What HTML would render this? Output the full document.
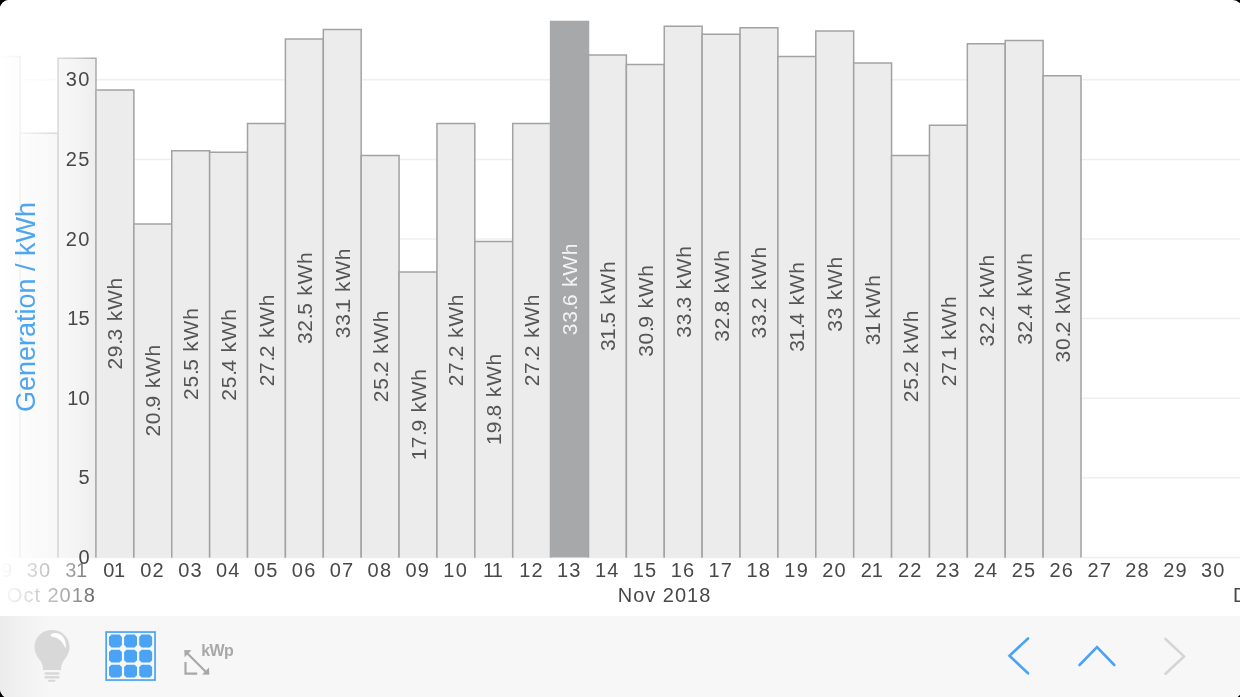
<!DOCTYPE html>
<html><head><meta charset="utf-8"><style>
html,body{margin:0;padding:0;background:#000;}
body{width:1240px;height:697px;overflow:hidden;position:relative;font-family:"Liberation Sans",sans-serif;}
#app{position:absolute;left:0;top:0;width:1242px;height:698px;background:#fff;border-radius:9px;overflow:hidden;}
svg{position:absolute;left:0;top:0;will-change:transform;}
#tb{position:absolute;left:0;top:616px;width:1242px;height:82px;background:linear-gradient(to right,#ececec 0px,#f2f2f2 25px,#f7f7f7 50px);}
</style></head><body><div id="app">
<svg width="1240" height="616" viewBox="0 0 1240 616" font-family="Liberation Sans, sans-serif">
<defs>
<linearGradient id="fade" x1="0" y1="0" x2="1" y2="0">
<stop offset="0" stop-color="#fff" stop-opacity="1"/>
<stop offset="0.4" stop-color="#fff" stop-opacity="0.72"/>
<stop offset="0.72" stop-color="#fff" stop-opacity="0.47"/>
<stop offset="0.84" stop-color="#fff" stop-opacity="0.29"/>
<stop offset="1" stop-color="#fff" stop-opacity="0"/>
</linearGradient>
</defs>
<g stroke="#efefef" stroke-width="1.5"><line x1="0" y1="477.80" x2="1240" y2="477.80" /><line x1="0" y1="398.20" x2="1240" y2="398.20" /><line x1="0" y1="318.60" x2="1240" y2="318.60" /><line x1="0" y1="239.00" x2="1240" y2="239.00" /><line x1="0" y1="159.40" x2="1240" y2="159.40" /><line x1="0" y1="79.80" x2="1240" y2="79.80" /><line x1="0" y1="557.40" x2="1240" y2="557.40" /></g>
<g><rect x="-17.67" y="56.57" width="37.88" height="500.83" fill="#ececec"/><path d="M-17.67 557.40 V56.57 H20.22 V557.40" fill="none" stroke="#a1a2a4" stroke-width="1.5"/><rect x="20.22" y="133.13" width="37.88" height="424.27" fill="#ececec"/><path d="M20.22 557.40 V133.13 H58.10 V557.40" fill="none" stroke="#a1a2a4" stroke-width="1.5"/><rect x="58.10" y="58.16" width="37.88" height="499.24" fill="#ececec"/><path d="M58.10 557.40 V58.16 H95.98 V557.40" fill="none" stroke="#a1a2a4" stroke-width="1.5"/><rect x="95.98" y="90.06" width="37.88" height="467.33" fill="#ececec"/><path d="M95.98 557.40 V90.06 H133.87 V557.40" fill="none" stroke="#a1a2a4" stroke-width="1.5"/><rect x="133.87" y="224.05" width="37.88" height="333.35" fill="#ececec"/><path d="M133.87 557.40 V224.05 H171.75 V557.40" fill="none" stroke="#a1a2a4" stroke-width="1.5"/><rect x="171.75" y="150.68" width="37.88" height="406.72" fill="#ececec"/><path d="M171.75 557.40 V150.68 H209.64 V557.40" fill="none" stroke="#a1a2a4" stroke-width="1.5"/><rect x="209.64" y="152.27" width="37.88" height="405.13" fill="#ececec"/><path d="M209.64 557.40 V152.27 H247.52 V557.40" fill="none" stroke="#a1a2a4" stroke-width="1.5"/><rect x="247.52" y="123.56" width="37.88" height="433.84" fill="#ececec"/><path d="M247.52 557.40 V123.56 H285.41 V557.40" fill="none" stroke="#a1a2a4" stroke-width="1.5"/><rect x="285.41" y="39.02" width="37.88" height="518.38" fill="#ececec"/><path d="M285.41 557.40 V39.02 H323.30 V557.40" fill="none" stroke="#a1a2a4" stroke-width="1.5"/><rect x="323.30" y="29.45" width="37.88" height="527.95" fill="#ececec"/><path d="M323.30 557.40 V29.45 H361.18 V557.40" fill="none" stroke="#a1a2a4" stroke-width="1.5"/><rect x="361.18" y="155.46" width="37.88" height="401.94" fill="#ececec"/><path d="M361.18 557.40 V155.46 H399.06 V557.40" fill="none" stroke="#a1a2a4" stroke-width="1.5"/><rect x="399.06" y="271.90" width="37.88" height="285.50" fill="#ececec"/><path d="M399.06 557.40 V271.90 H436.95 V557.40" fill="none" stroke="#a1a2a4" stroke-width="1.5"/><rect x="436.95" y="123.56" width="37.88" height="433.84" fill="#ececec"/><path d="M436.95 557.40 V123.56 H474.83 V557.40" fill="none" stroke="#a1a2a4" stroke-width="1.5"/><rect x="474.83" y="241.59" width="37.88" height="315.81" fill="#ececec"/><path d="M474.83 557.40 V241.59 H512.72 V557.40" fill="none" stroke="#a1a2a4" stroke-width="1.5"/><rect x="512.72" y="123.56" width="37.88" height="433.84" fill="#ececec"/><path d="M512.72 557.40 V123.56 H550.61 V557.40" fill="none" stroke="#a1a2a4" stroke-width="1.5"/><rect x="549.86" y="20.73" width="39.38" height="536.67" fill="#a7a8aa"/><rect x="588.49" y="54.98" width="37.88" height="502.42" fill="#ececec"/><path d="M588.49 557.40 V54.98 H626.38 V557.40" fill="none" stroke="#a1a2a4" stroke-width="1.5"/><rect x="626.38" y="64.55" width="37.88" height="492.85" fill="#ececec"/><path d="M626.38 557.40 V64.55 H664.26 V557.40" fill="none" stroke="#a1a2a4" stroke-width="1.5"/><rect x="664.26" y="26.27" width="37.88" height="531.13" fill="#ececec"/><path d="M664.26 557.40 V26.27 H702.14 V557.40" fill="none" stroke="#a1a2a4" stroke-width="1.5"/><rect x="702.14" y="34.24" width="37.88" height="523.16" fill="#ececec"/><path d="M702.14 557.40 V34.24 H740.03 V557.40" fill="none" stroke="#a1a2a4" stroke-width="1.5"/><rect x="740.03" y="27.86" width="37.88" height="529.54" fill="#ececec"/><path d="M740.03 557.40 V27.86 H777.91 V557.40" fill="none" stroke="#a1a2a4" stroke-width="1.5"/><rect x="777.91" y="56.57" width="37.88" height="500.83" fill="#ececec"/><path d="M777.91 557.40 V56.57 H815.80 V557.40" fill="none" stroke="#a1a2a4" stroke-width="1.5"/><rect x="815.80" y="31.05" width="37.88" height="526.35" fill="#ececec"/><path d="M815.80 557.40 V31.05 H853.68 V557.40" fill="none" stroke="#a1a2a4" stroke-width="1.5"/><rect x="853.68" y="62.95" width="37.88" height="494.45" fill="#ececec"/><path d="M853.68 557.40 V62.95 H891.57 V557.40" fill="none" stroke="#a1a2a4" stroke-width="1.5"/><rect x="891.57" y="155.46" width="37.88" height="401.94" fill="#ececec"/><path d="M891.57 557.40 V155.46 H929.45 V557.40" fill="none" stroke="#a1a2a4" stroke-width="1.5"/><rect x="929.45" y="125.15" width="37.88" height="432.25" fill="#ececec"/><path d="M929.45 557.40 V125.15 H967.34 V557.40" fill="none" stroke="#a1a2a4" stroke-width="1.5"/><rect x="967.34" y="43.81" width="37.88" height="513.59" fill="#ececec"/><path d="M967.34 557.40 V43.81 H1005.23 V557.40" fill="none" stroke="#a1a2a4" stroke-width="1.5"/><rect x="1005.23" y="40.62" width="37.88" height="516.78" fill="#ececec"/><path d="M1005.23 557.40 V40.62 H1043.11 V557.40" fill="none" stroke="#a1a2a4" stroke-width="1.5"/><rect x="1043.11" y="75.71" width="37.88" height="481.69" fill="#ececec"/><path d="M1043.11 557.40 V75.71 H1080.99 V557.40" fill="none" stroke="#a1a2a4" stroke-width="1.5"/></g>
<g font-size="21"><text x="0.38" y="0" transform="translate(122.43,323.73) rotate(-90)" text-anchor="middle" fill="#555555" letter-spacing="0.75">29.<tspan dx="-2.25">3</tspan> kWh</text><text x="0.38" y="0" transform="translate(160.31,390.72) rotate(-90)" text-anchor="middle" fill="#555555" letter-spacing="0.75">20.<tspan dx="-2.25">9</tspan> kWh</text><text x="0.38" y="0" transform="translate(198.20,354.04) rotate(-90)" text-anchor="middle" fill="#555555" letter-spacing="0.75">25.<tspan dx="-2.25">5</tspan> kWh</text><text x="0.38" y="0" transform="translate(236.08,354.84) rotate(-90)" text-anchor="middle" fill="#555555" letter-spacing="0.75">25.<tspan dx="-2.25">4</tspan> kWh</text><text x="0.38" y="0" transform="translate(273.97,340.48) rotate(-90)" text-anchor="middle" fill="#555555" letter-spacing="0.75">27.<tspan dx="-2.25">2</tspan> kWh</text><text x="0.38" y="0" transform="translate(311.85,298.21) rotate(-90)" text-anchor="middle" fill="#555555" letter-spacing="0.75">32.<tspan dx="-2.25">5</tspan> kWh</text><text x="0.38" y="0" transform="translate(349.74,293.43) rotate(-90)" text-anchor="middle" fill="#555555" letter-spacing="0.75">33.<tspan dx="-3.75">1</tspan><tspan dx="-0.5"> </tspan>kWh</text><text x="0.38" y="0" transform="translate(387.62,356.43) rotate(-90)" text-anchor="middle" fill="#555555" letter-spacing="0.75">25.<tspan dx="-2.25">2</tspan> kWh</text><text x="0.38" y="0" transform="translate(425.51,414.65) rotate(-90)" text-anchor="middle" fill="#555555" letter-spacing="0.75">1<tspan dx="-0.5">7</tspan>.<tspan dx="-2.25">9</tspan> kWh</text><text x="0.38" y="0" transform="translate(463.39,340.48) rotate(-90)" text-anchor="middle" fill="#555555" letter-spacing="0.75">27.<tspan dx="-2.25">2</tspan> kWh</text><text x="0.38" y="0" transform="translate(501.28,399.50) rotate(-90)" text-anchor="middle" fill="#555555" letter-spacing="0.75">1<tspan dx="-0.5">9</tspan>.<tspan dx="-2.25">8</tspan> kWh</text><text x="0.38" y="0" transform="translate(539.16,340.48) rotate(-90)" text-anchor="middle" fill="#555555" letter-spacing="0.75">27.<tspan dx="-2.25">2</tspan> kWh</text><text x="0.38" y="0" transform="translate(577.05,289.44) rotate(-90)" text-anchor="middle" fill="#f4f4f4" letter-spacing="0.75">33.<tspan dx="-2.25">6</tspan> kWh</text><text x="0.38" y="0" transform="translate(614.93,306.19) rotate(-90)" text-anchor="middle" fill="#555555" letter-spacing="0.75">3<tspan dx="-1.5">1</tspan><tspan dx="-0.5">.</tspan><tspan dx="-2.25">5</tspan> kWh</text><text x="0.38" y="0" transform="translate(652.82,310.97) rotate(-90)" text-anchor="middle" fill="#555555" letter-spacing="0.75">30.<tspan dx="-2.25">9</tspan> kWh</text><text x="0.38" y="0" transform="translate(690.70,291.83) rotate(-90)" text-anchor="middle" fill="#555555" letter-spacing="0.75">33.<tspan dx="-2.25">3</tspan> kWh</text><text x="0.38" y="0" transform="translate(728.59,295.82) rotate(-90)" text-anchor="middle" fill="#555555" letter-spacing="0.75">32.<tspan dx="-2.25">8</tspan> kWh</text><text x="0.38" y="0" transform="translate(766.47,292.63) rotate(-90)" text-anchor="middle" fill="#555555" letter-spacing="0.75">33.<tspan dx="-2.25">2</tspan> kWh</text><text x="0.38" y="0" transform="translate(804.36,306.99) rotate(-90)" text-anchor="middle" fill="#555555" letter-spacing="0.75">3<tspan dx="-1.5">1</tspan><tspan dx="-0.5">.</tspan><tspan dx="-2.25">4</tspan> kWh</text><text x="0.38" y="0" transform="translate(842.24,294.22) rotate(-90)" text-anchor="middle" fill="#555555" letter-spacing="0.75">33 kWh</text><text x="0.38" y="0" transform="translate(880.13,310.17) rotate(-90)" text-anchor="middle" fill="#555555" letter-spacing="0.75">3<tspan dx="-1.5">1</tspan><tspan dx="-0.5"> </tspan><tspan dx="-3.0">k</tspan>Wh</text><text x="0.38" y="0" transform="translate(918.01,356.43) rotate(-90)" text-anchor="middle" fill="#555555" letter-spacing="0.75">25.<tspan dx="-2.25">2</tspan> kWh</text><text x="0.38" y="0" transform="translate(955.90,341.28) rotate(-90)" text-anchor="middle" fill="#555555" letter-spacing="0.75">27.<tspan dx="-3.75">1</tspan><tspan dx="-0.5"> </tspan>kWh</text><text x="0.38" y="0" transform="translate(993.78,300.60) rotate(-90)" text-anchor="middle" fill="#555555" letter-spacing="0.75">32.<tspan dx="-2.25">2</tspan> kWh</text><text x="0.38" y="0" transform="translate(1031.67,299.01) rotate(-90)" text-anchor="middle" fill="#555555" letter-spacing="0.75">32.<tspan dx="-2.25">4</tspan> kWh</text><text x="0.38" y="0" transform="translate(1069.55,316.56) rotate(-90)" text-anchor="middle" fill="#555555" letter-spacing="0.75">30.<tspan dx="-2.25">2</tspan> kWh</text></g>
<g font-size="20" fill="#484848"><text x="1.07" y="577" text-anchor="middle" letter-spacing="1.2">29</text><text x="38.96" y="577" text-anchor="middle" letter-spacing="1.2">30</text><text x="76.84" y="577" text-anchor="middle" letter-spacing="1.2">3<tspan dx="-1.5">1</tspan></text><text x="114.73" y="577" text-anchor="middle" letter-spacing="1.2">0<tspan dx="-1.5">1</tspan></text><text x="152.61" y="577" text-anchor="middle" letter-spacing="1.2">02</text><text x="190.50" y="577" text-anchor="middle" letter-spacing="1.2">03</text><text x="228.38" y="577" text-anchor="middle" letter-spacing="1.2">04</text><text x="266.27" y="577" text-anchor="middle" letter-spacing="1.2">05</text><text x="304.15" y="577" text-anchor="middle" letter-spacing="1.2">06</text><text x="342.04" y="577" text-anchor="middle" letter-spacing="1.2">07</text><text x="379.92" y="577" text-anchor="middle" letter-spacing="1.2">08</text><text x="417.81" y="577" text-anchor="middle" letter-spacing="1.2">09</text><text x="455.69" y="577" text-anchor="middle" letter-spacing="1.2">10</text><text x="493.58" y="577" text-anchor="middle" letter-spacing="1.2">1<tspan dx="-2.2">1</tspan></text><text x="531.46" y="577" text-anchor="middle" letter-spacing="1.2">12</text><text x="569.35" y="577" text-anchor="middle" letter-spacing="1.2">13</text><text x="607.23" y="577" text-anchor="middle" letter-spacing="1.2">14</text><text x="645.12" y="577" text-anchor="middle" letter-spacing="1.2">15</text><text x="683.00" y="577" text-anchor="middle" letter-spacing="1.2">16</text><text x="720.89" y="577" text-anchor="middle" letter-spacing="1.2">17</text><text x="758.77" y="577" text-anchor="middle" letter-spacing="1.2">18</text><text x="796.66" y="577" text-anchor="middle" letter-spacing="1.2">19</text><text x="834.54" y="577" text-anchor="middle" letter-spacing="1.2">20</text><text x="872.43" y="577" text-anchor="middle" letter-spacing="1.2">2<tspan dx="-1.5">1</tspan></text><text x="910.31" y="577" text-anchor="middle" letter-spacing="1.2">22</text><text x="948.20" y="577" text-anchor="middle" letter-spacing="1.2">23</text><text x="986.08" y="577" text-anchor="middle" letter-spacing="1.2">24</text><text x="1023.97" y="577" text-anchor="middle" letter-spacing="1.2">25</text><text x="1061.85" y="577" text-anchor="middle" letter-spacing="1.2">26</text><text x="1099.74" y="577" text-anchor="middle" letter-spacing="1.2">27</text><text x="1137.62" y="577" text-anchor="middle" letter-spacing="1.2">28</text><text x="1175.51" y="577" text-anchor="middle" letter-spacing="1.2">29</text><text x="1213.39" y="577" text-anchor="middle" letter-spacing="1.2">30</text></g>
<g font-size="20" fill="#484848">
<text x="96" y="602" text-anchor="end" letter-spacing="1">Oct 2018</text>
<text x="664.5" y="602" text-anchor="middle" letter-spacing="1">Nov 2018</text>
<text x="1233" y="602" letter-spacing="1">Dec 2018</text>
</g>
<rect x="0" y="0" width="102" height="616" fill="url(#fade)"/>
<g font-size="20" fill="#484848" text-anchor="end" letter-spacing="1.5">
<text x="91" y="86.42">30</text>
<text x="91" y="166.00">25</text>
<text x="91" y="245.58">20</text>
<text x="91" y="325.16">1<tspan dx="-1.5">5</tspan></text>
<text x="91" y="404.74">1<tspan dx="-1.5">0</tspan></text>
<text x="91" y="484.32">5</text>
<text x="91" y="563.90">0</text>
</g>
<text transform="translate(35,307) rotate(-90)" text-anchor="middle" font-size="27" fill="#4ea6f0">Generation / kWh</text>
</svg>
<div id="tb">
<svg width="1240" height="81" viewBox="0 616 1240 81">
<!-- bulb -->
<g fill="#d8d8d8">
<path d="M52 630 C62 630 69.5 637.5 69.5 647 C69.5 653 66.5 657 63.5 661 C61.5 664 61 667 61 670 L43 670 C43 667 42.5 664 40.5 661 C37.5 657 34.5 653 34.5 647 C34.5 637.5 42 630 52 630 Z"/>
<rect x="44.5" y="672.2" width="15" height="2.5" rx="1"/>
<rect x="44.5" y="676.1" width="15" height="2.5" rx="1"/>
<rect x="48" y="679.8" width="7.5" height="2" rx="1"/>
</g>
<path d="M50.6 635.2 C51.5 632.5 58.5 632 62.5 636.2 C65.5 639.5 66.4 644.5 65.3 648.4 C64 644.5 61.5 640.8 57.8 638.5 C54.5 636.6 51.2 637.2 50.6 635.2 Z" fill="#fff"/>
<!-- panel -->
<rect x="106.15" y="632.05" width="48.9" height="48" fill="none" stroke="#4aa3f5" stroke-width="1.7"/>
<g fill="#4aa3f5"><path d="M111.40 634.60 L119.50 634.60 L121.90 637.00 L121.90 645.10 L119.50 647.50 L111.40 647.50 L109.00 645.10 L109.00 637.00 Z"/><path d="M126.50 634.60 L134.60 634.60 L137.00 637.00 L137.00 645.10 L134.60 647.50 L126.50 647.50 L124.10 645.10 L124.10 637.00 Z"/><path d="M141.60 634.60 L149.70 634.60 L152.10 637.00 L152.10 645.10 L149.70 647.50 L141.60 647.50 L139.20 645.10 L139.20 637.00 Z"/><path d="M111.40 649.65 L119.50 649.65 L121.90 652.05 L121.90 660.15 L119.50 662.55 L111.40 662.55 L109.00 660.15 L109.00 652.05 Z"/><path d="M126.50 649.65 L134.60 649.65 L137.00 652.05 L137.00 660.15 L134.60 662.55 L126.50 662.55 L124.10 660.15 L124.10 652.05 Z"/><path d="M141.60 649.65 L149.70 649.65 L152.10 652.05 L152.10 660.15 L149.70 662.55 L141.60 662.55 L139.20 660.15 L139.20 652.05 Z"/><path d="M111.40 664.70 L119.50 664.70 L121.90 667.10 L121.90 675.20 L119.50 677.60 L111.40 677.60 L109.00 675.20 L109.00 667.10 Z"/><path d="M126.50 664.70 L134.60 664.70 L137.00 667.10 L137.00 675.20 L134.60 677.60 L126.50 677.60 L124.10 675.20 L124.10 667.10 Z"/><path d="M141.60 664.70 L149.70 664.70 L152.10 667.10 L152.10 675.20 L149.70 677.60 L141.60 677.60 L139.20 675.20 L139.20 667.10 Z"/></g>
<!-- kWp -->
<g stroke="#a8a8a8" stroke-width="2.2" fill="none">
<path d="M186.5 652.5 L207 673"/>
<path d="M185.5 662 L185.5 673.6 L197.2 673.6"/>
</g>
<g fill="#a8a8a8">
<path d="M184.3 650 L191.5 650.3 L184.6 657.2 Z"/>
<path d="M209.3 674.8 L202.1 674.5 L209 667.6 Z"/>
</g>
<text x="201.3" y="656.3" font-family="Liberation Sans, sans-serif" font-weight="bold" font-size="16" fill="#a8a8a8" letter-spacing="-0.6">kWp</text>
<!-- nav -->
<g fill="none" stroke-width="2.6" stroke-linecap="round" stroke-linejoin="miter">
<path d="M1028 638.5 L1009.5 655.8 L1028 673.3" stroke="#4aa3f5"/>
<path d="M1079.5 665 L1097 647.2 L1114.3 665" stroke="#4aa3f5"/>
<path d="M1165.5 639 L1184 656.4 L1165.5 673.8" stroke="#d5d5d5"/>
</g>
</svg>
</div>
</div></body></html>
